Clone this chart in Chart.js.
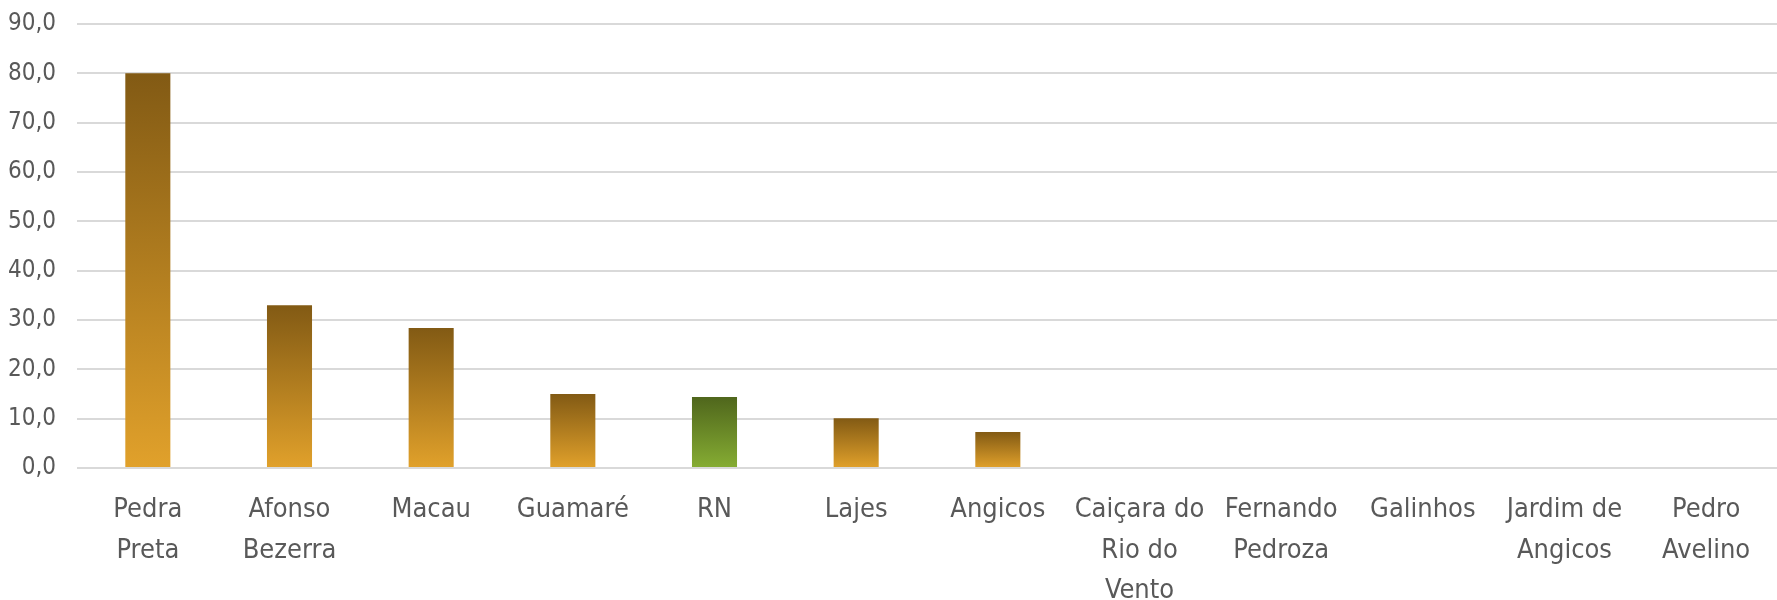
<!DOCTYPE html>
<html>
<head>
<meta charset="utf-8">
<script src="https://cdn.jsdelivr.net/npm/chart.js@4/dist/chart.umd.min.js"></script>
<style>
  html, body { margin: 0; padding: 0; background: #fff; }
  #wrap { width: 1777px; height: 600px; position: relative; }
</style>
</head>
<body>
<div id="wrap"><canvas id="chart"></canvas></div>
<script>
// Data
const labels = [
  ["Pedra", "Preta"],
  ["Afonso", "Bezerra"],
  "Macau",
  "Guamaré",
  "RN",
  "Lajes",
  "Angicos",
  ["Caiçara do", "Rio do", "Vento"],
  ["Fernando", "Pedroza"],
  "Galinhos",
  ["Jardim de", "Angicos"],
  ["Pedro", "Avelino"],
]
const values = [80.0, 33.0, 28.4, 15.0, 14.4, 10.1, 7.3, 0, 0, 0, 0, 0]
const highlight = ["RN"]
const yTicks = [0, 10, 20, 30, 40, 50, 60, 70, 80, 90]

const fontFamily = "'Liberation Sans Narrow', 'DejaVu Sans Condensed', Lato, sans-serif"

function barFill(context) {
  const chart = context.chart
  const y = chart.scales.y
  if (!chart.chartArea || !y) return "#d39a2a"
  const v = context.raw || 0
  const top = y.getPixelForValue(v)
  const bottom = y.getPixelForValue(0)
  if (!isFinite(top) || !isFinite(bottom) || top === bottom) return "#d39a2a"
  const g = chart.ctx.createLinearGradient(0, top, 0, bottom)
  const isRN = highlight.includes(labels[context.dataIndex])
  if (isRN) {
    g.addColorStop(0, "#4f661c")
    g.addColorStop(1, "#86ad33")
  } else {
    g.addColorStop(0, "#825a14")
    g.addColorStop(1, "#e1a12b")
  }
  return g
}

new Chart(document.getElementById("chart"), {
  type: "bar",
  data: {
    labels: labels,
    datasets: [
      {
        data: values,
        backgroundColor: barFill,
        borderWidth: 0,
        barPercentage: 0.53,
        categoryPercentage: 0.6,
      },
    ],
  },
  options: {
    responsive: true,
    maintainAspectRatio: false,
    animation: false,
    layout: {
      padding: 0,
    },
    plugins: {
      legend: { display: false },
      tooltip: { enabled: false },
    },
    scales: {
      x: {
        grid: { display: false, drawTicks: false },
        border: { display: false },
        // labels run off the bottom edge like in the original
        afterFit: (axis) => {
          axis.height = 132
        },
        ticks: {
          color: "#595959",
          padding: 22,
          maxRotation: 0,
          autoSkip: false,
          font: { family: fontFamily, size: 27, lineHeight: 1.5 },
        },
      },
      y: {
        min: 0,
        max: 90,
        afterBuildTicks: (axis) => {
          axis.ticks = yTicks.map((v) => ({ value: v }))
        },
        afterFit: (axis) => {
          axis.width = 77
          axis.paddingTop = 24
        },
        grid: {
          color: "#d9d9d9",
          lineWidth: 2,
          drawTicks: false,
        },
        border: { display: false },
        ticks: {
          color: "#595959",
          padding: 21,
          font: { family: fontFamily, size: 24 },
          callback: (v) => v.toFixed(1).replace(".", ","),
        },
      },
    },
  },
})
</script>
</body>
</html>
